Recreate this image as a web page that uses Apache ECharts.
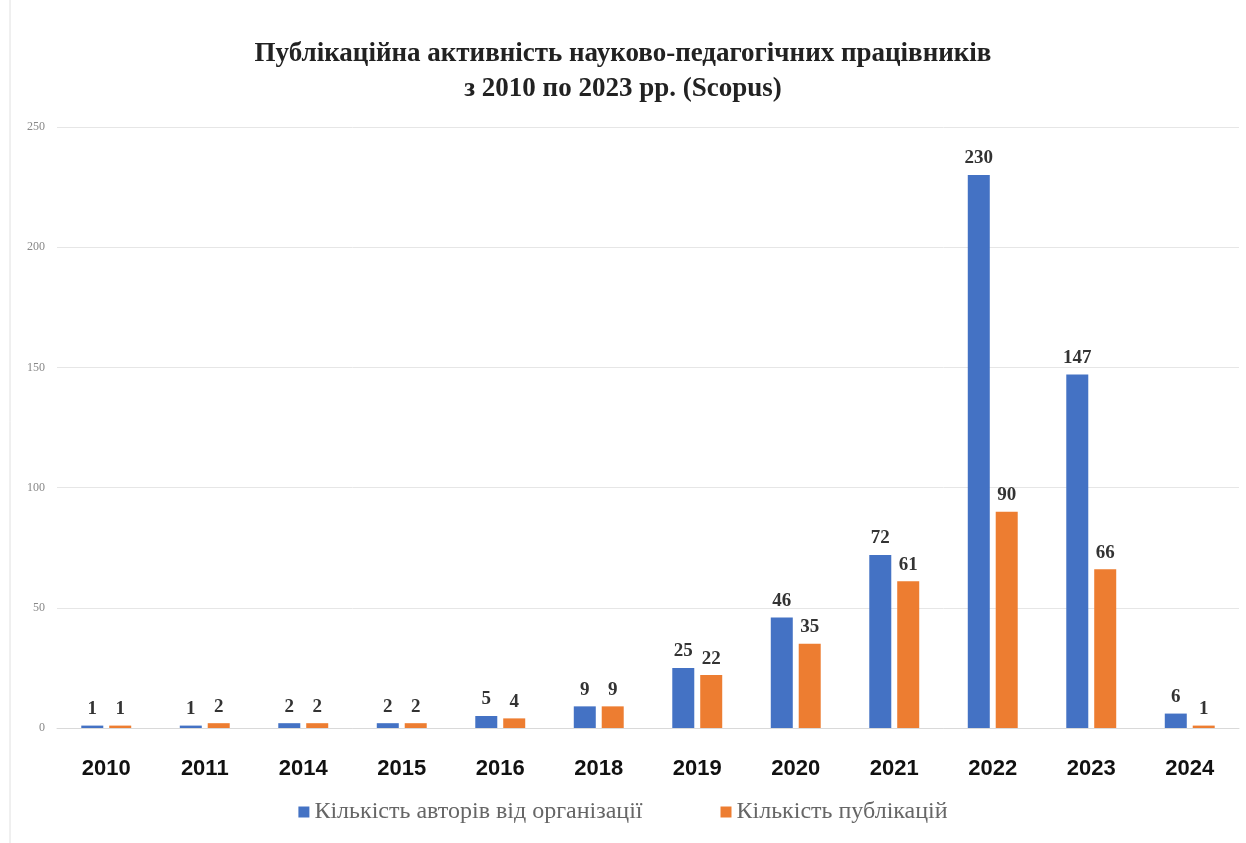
<!DOCTYPE html>
<html><head><meta charset="utf-8">
<script src="https://cdn.jsdelivr.net/npm/echarts@6/dist/echarts.min.js"></script>
<style>html,body{margin:0;padding:0;background:#fff}#c{width:1246px;height:843px}</style>
</head><body><div id="c"></div>
<script>
const categories = ['2010','2011','2014','2015','2016','2018','2019','2020','2021','2022','2023','2024'];
const authors = [1,1,2,2,5,9,25,46,72,230,147,6];
const publications = [1,2,2,2,4,9,22,35,61,90,66,1];
const seriesNames = ['Кількість авторів від організації','Кількість публікацій'];
const yTicks = {min:0,max:250,interval:50};

const chart = echarts.init(document.getElementById('c'));
const lbl = {show:true,position:'top',distance:7,fontFamily:'Liberation Serif',fontWeight:'bold',fontSize:19,color:'#333'};
chart.setOption({
  animation:false,
  backgroundColor:'#fff',
  title:{text:'Публікаційна активність науково-педагогічних працівників\nз 2010 по 2023 рр. (Scopus)',left:'center',top:32,
    textStyle:{fontFamily:'Liberation Serif',fontWeight:'bold',fontSize:27,color:'#222',lineHeight:35}},
  legend:{data:seriesNames,bottom:14,left:'center',itemGap:78,itemWidth:11,itemHeight:11,icon:'rect',
    textStyle:{fontFamily:'Liberation Serif',fontSize:24,color:'#666'}},
  grid:{left:57,right:7,top:127,bottom:115,containLabel:false},
  xAxis:{type:'category',data:categories,axisLine:{lineStyle:{color:'#d9d9d9'}},axisTick:{show:false},
    axisLabel:{fontFamily:'Liberation Sans',fontWeight:'bold',fontSize:22,color:'#111',margin:30}},
  yAxis:{type:'value',min:yTicks.min,max:yTicks.max,interval:yTicks.interval,axisLine:{show:false},axisTick:{show:false},
    splitLine:{lineStyle:{color:'#e6e6e6'}},
    axisLabel:{fontFamily:'Liberation Serif',fontSize:12,color:'#888',margin:12}},
  series:[
    {name:seriesNames[0],type:'bar',data:authors,barWidth:22,barGap:'27%',itemStyle:{color:'#4472C4'},label:lbl},
    {name:seriesNames[1],type:'bar',data:publications,barWidth:22,itemStyle:{color:'#ED7D31'},label:lbl}
  ],
  graphic:[{type:'line',shape:{x1:10,y1:0,x2:10,y2:843},style:{stroke:'#e0e0e0',lineWidth:1}}]
});
</script></body></html>
